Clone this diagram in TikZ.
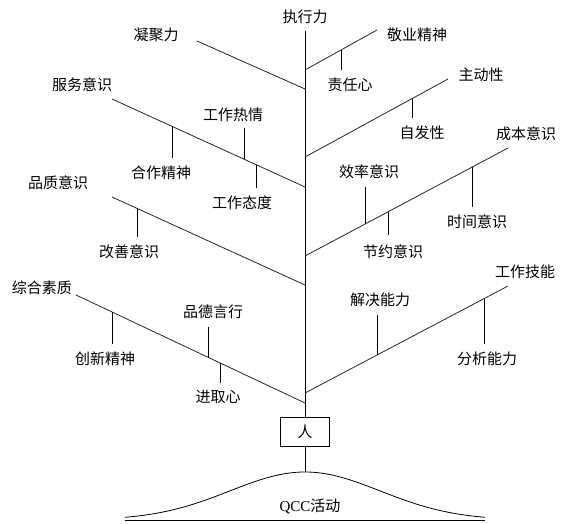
\documentclass[tikz,border=0pt]{standalone}
\usepackage{fontspec}
\newfontfamily\cjk{Noto Sans CJK SC}
\newfontfamily\qccfont{Liberation Serif}
\begin{document}
\begin{tikzpicture}[x=1pt,y=-1pt,
  lbl/.style={font=\cjk\fontsize{15}{16}\selectfont, inner sep=0pt},
  branch/.style={line width=0.8pt, black!85},
  tick/.style={line width=0.8pt, black}]
\useasboundingbox (0,0) rectangle (576,524);

% trunk and base
\coordinate (top) at (305,31);
\coordinate (peak) at (305,472);
\node[lbl] (zxl) at (305,17) {执行力};
\node[draw, line width=0.8pt, minimum width=49pt, minimum height=29pt, inner sep=0pt,
  font=\cjk\fontsize{15}{16}\selectfont] (ren) at (305,431.5) {人};
\draw[tick] (top) -- (ren.north);
\draw[tick] (ren.south) -- (peak);
\coordinate (bl) at (125,520);
\coordinate (br) at (485,520);
\draw[line width=0.8pt] plot[domain=125:485, samples=120, smooth] (\x, {520-48*exp(-((\x-305)/75)^2/2)});
\draw[line width=0.8pt] (bl) -- (br);
\node[inner sep=0pt, font=\fontsize{15}{16}\selectfont] (qcc) at (310,506) {\qccfont QCC\cjk 活动};

% 1 凝聚力
\coordinate (a1) at (197,41); \coordinate (b1) at (305,89);
\node[lbl] (njl) at (156,35) {凝聚力};
\draw[branch] (a1) -- (b1);

% 2 敬业精神
\coordinate (a2) at (305,70); \coordinate (b2) at (377,30);
\node[lbl] (jyjs) at (417,35) {敬业精神};
\draw[branch] (a2) -- (b2);
\coordinate (t2a) at (341,50); \coordinate (t2b) at (341,70);
\draw[tick] (t2a) -- (t2b);
\node[lbl] (zrx) at (350,85) {责任心};

% 3 服务意识
\coordinate (a3) at (112,99); \coordinate (b3) at (305,187);
\node[lbl] (fwys) at (82,85) {服务意识};
\draw[branch] (a3) -- (b3);
\coordinate (t3a) at (172,126.4); \coordinate (t3b) at (172,158);
\draw[tick] (t3a) -- (t3b);
\node[lbl] (hzjs) at (161,173) {合作精神};
\coordinate (t3c) at (244,128); \coordinate (t3d) at (244,159.2);
\draw[tick] (t3c) -- (t3d);
\node[lbl] (gzrq) at (233,115) {工作热情};
\coordinate (t3e) at (256,164.7); \coordinate (t3f) at (256,188);
\draw[tick] (t3e) -- (t3f);
\node[lbl] (gztd) at (242,203) {工作态度};

% 4 主动性
\coordinate (a4) at (305,157); \coordinate (b4) at (448,79);
\node[lbl] (zdx) at (481,75) {主动性};
\draw[branch] (a4) -- (b4);
\coordinate (t4a) at (412,98.6); \coordinate (t4b) at (412,118);
\draw[tick] (t4a) -- (t4b);
\node[lbl] (zfx) at (422,133) {自发性};

% 5 成本意识
\coordinate (a5) at (305,256); \coordinate (b5) at (508,148);
\node[lbl] (cbys) at (526,134) {成本意识};
\draw[branch] (a5) -- (b5);
\coordinate (t5a) at (472,167.2); \coordinate (t5b) at (472,207);
\draw[tick] (t5a) -- (t5b);
\node[lbl] (sjys) at (477,222) {时间意识};
\coordinate (t5c) at (365,187); \coordinate (t5d) at (365,224);
\draw[tick] (t5c) -- (t5d);
\node[lbl] (xlys) at (369,172) {效率意识};
\coordinate (t5e) at (388,211.8); \coordinate (t5f) at (388,235);
\draw[tick] (t5e) -- (t5f);
\node[lbl] (jyys) at (393,252) {节约意识};

% 6 品质意识
\coordinate (a6) at (112,197); \coordinate (b6) at (305,285);
\node[lbl] (pzys) at (58,183) {品质意识};
\draw[branch] (a6) -- (b6);
\coordinate (t6a) at (137,208.4); \coordinate (t6b) at (137,237);
\draw[tick] (t6a) -- (t6b);
\node[lbl] (gsys) at (129,252) {改善意识};

% 7 工作技能
\coordinate (a7) at (305,393); \coordinate (b7) at (508,286);
\node[lbl] (gzjn) at (525,272) {工作技能};
\draw[branch] (a7) -- (b7);
\coordinate (t7a) at (484,298.7); \coordinate (t7b) at (484,344);
\draw[tick] (t7a) -- (t7b);
\node[lbl] (fxnl) at (487,359) {分析能力};
\coordinate (t7c) at (377,315); \coordinate (t7d) at (377,355);
\draw[tick] (t7c) -- (t7d);
\node[lbl] (jjnl) at (380,300) {解决能力};

% 8 综合素质
\coordinate (a8) at (76,295); \coordinate (b8) at (305,403);
\node[lbl] (zhsz) at (42,288) {综合素质};
\draw[branch] (a8) -- (b8);
\coordinate (t8a) at (112,312); \coordinate (t8b) at (112,344);
\draw[tick] (t8a) -- (t8b);
\node[lbl] (cxjs) at (105,359) {创新精神};
\coordinate (t8c) at (208,327); \coordinate (t8d) at (208,357);
\draw[tick] (t8c) -- (t8d);
\node[lbl] (pdyx) at (213,312) {品德言行};
\coordinate (t8e) at (220,363); \coordinate (t8f) at (220,383);
\draw[tick] (t8e) -- (t8f);
\node[lbl] (jqx) at (218,397) {进取心};
\end{tikzpicture}
\end{document}
